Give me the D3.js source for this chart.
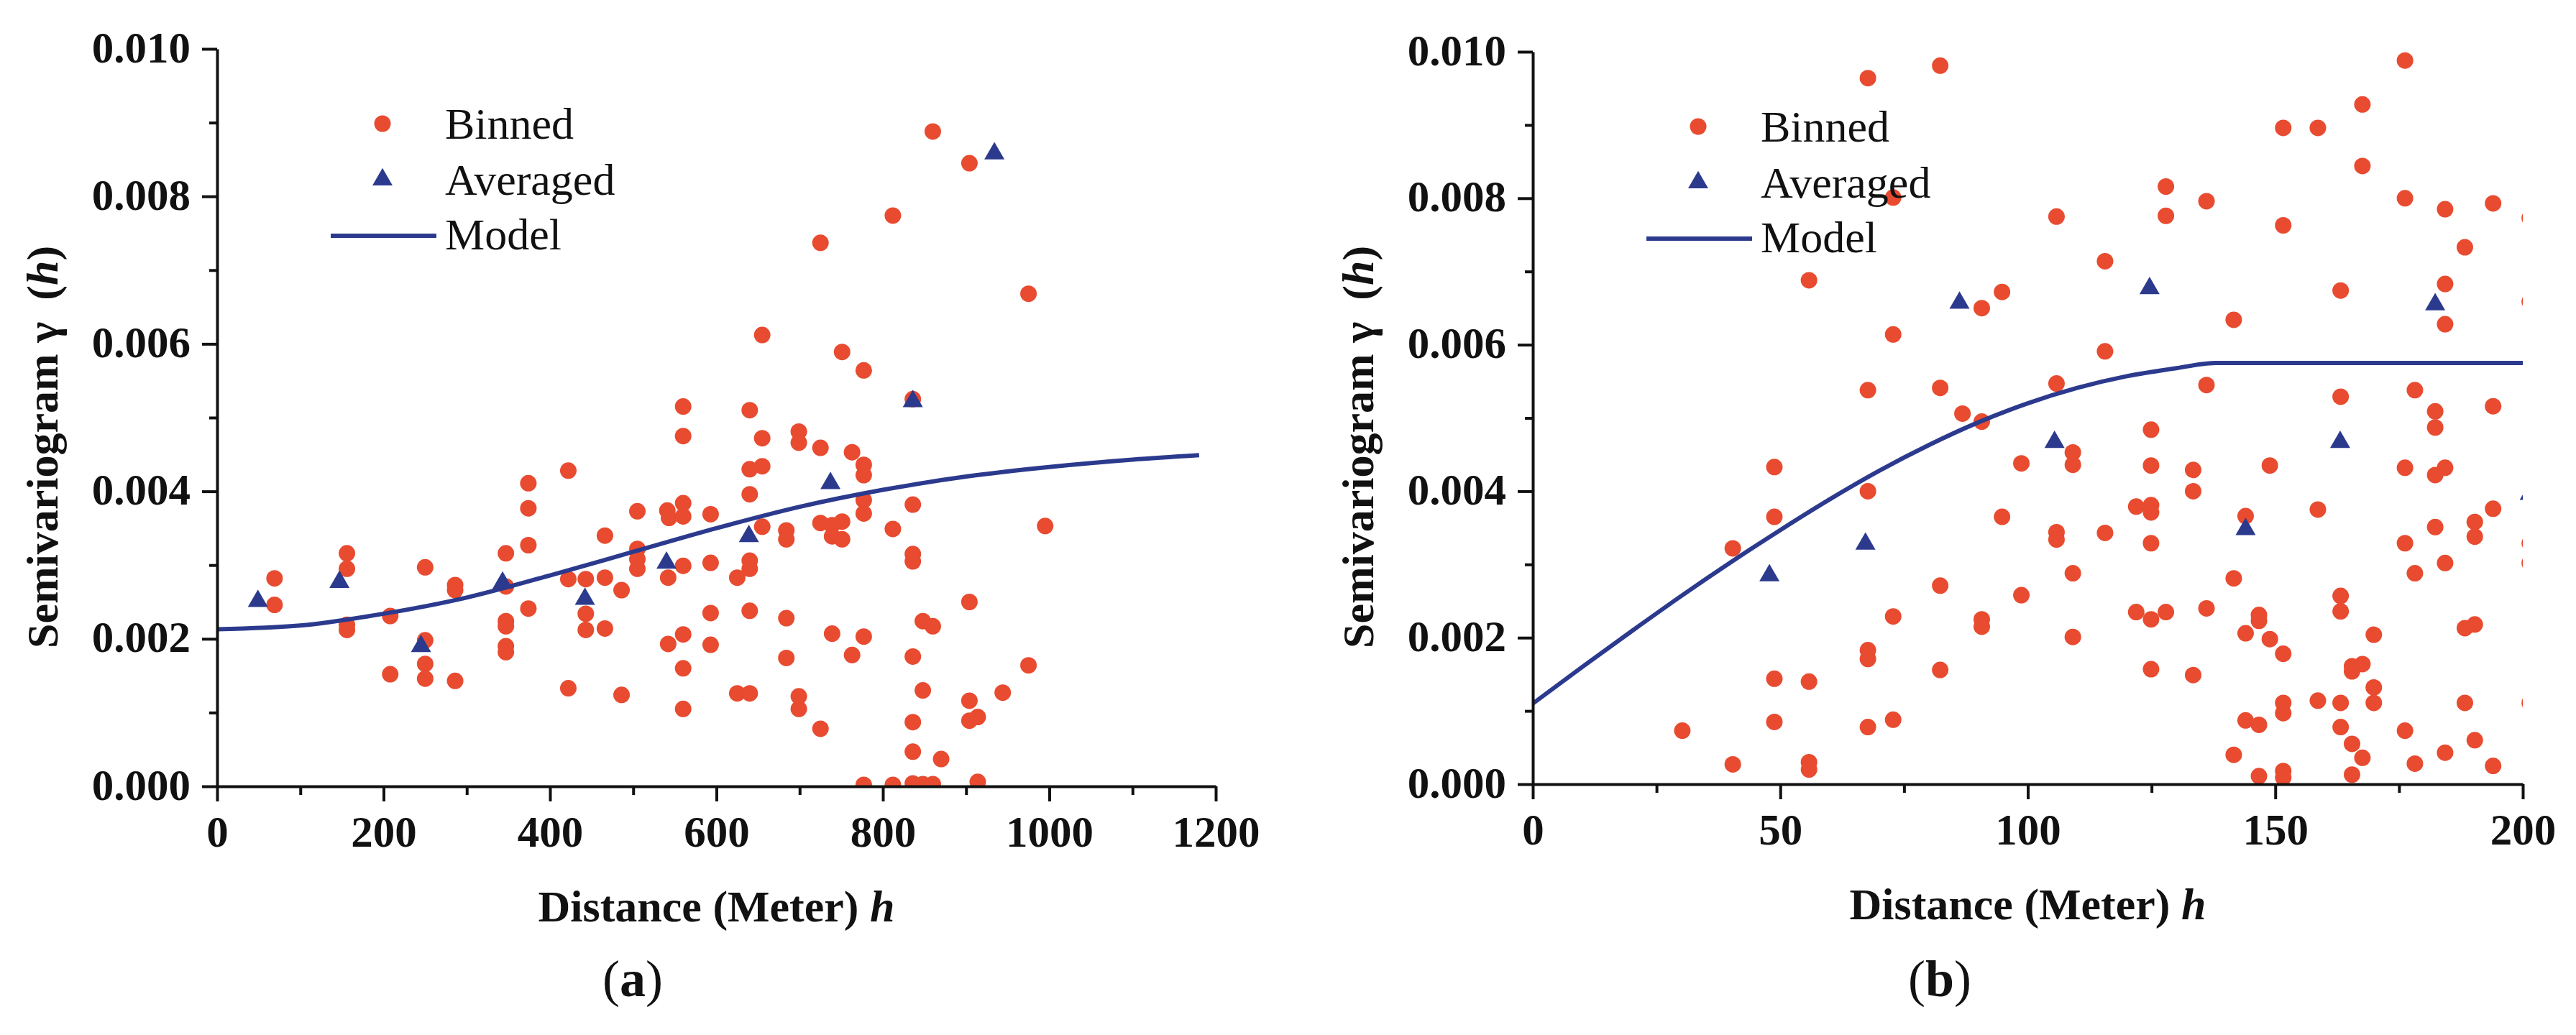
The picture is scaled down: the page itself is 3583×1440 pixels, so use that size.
<!DOCTYPE html>
<html><head><meta charset="utf-8">
<script src="https://cdn.jsdelivr.net/npm/d3@7"></script>
<style>body{margin:0;background:#fff}svg{display:block}</style>
</head><body>
<svg id="chart" width="3583" height="1440"></svg>
<script>
// ---------- data ----------
const binnedA = [
 [69,0.00282],[69,0.00246],
 [156,0.00316],[156,0.00295],[156,0.00219],[156,0.00212],
 [208,0.00231],[208,0.00152],
 [250,0.00297],[250,0.00198],[250,0.00166],[250,0.00146],
 [286,0.00273],[286,0.00266],[286,0.00143],
 [347,0.00316],[347,0.00271],[347,0.00224],[347,0.00217],[347,0.00190],[347,0.00182],
 [374,0.00411],[374,0.00377],[374,0.00327],[374,0.00241],
 [422,0.00428],[422,0.00281],[422,0.00133],
 [443,0.00281],[443,0.00234],[443,0.00212],
 [466,0.00340],[466,0.00283],[466,0.00214],
 [486,0.00266],[486,0.00124],
 [505,0.00373],[505,0.00322],[505,0.00308],[505,0.00295],
 [541,0.00374],[543,0.00364],[542,0.00283],[542,0.00193],
 [560,0.00515],[560,0.00475],[560,0.00384],[560,0.00366],[560,0.00299],[560,0.00206],[560,0.00160],[560,0.00105],
 [593,0.00369],[593,0.00303],[593,0.00235],[593,0.00192],
 [625,0.00283],[625,0.00126],
 [640,0.00510],[640,0.00430],[640,0.00396],[640,0.00306],[640,0.00295],[640,0.00238],[640,0.00126],
 [655,0.00612],[655,0.00472],[655,0.00434],[655,0.00352],
 [684,0.00347],[684,0.00335],[684,0.00228],[684,0.00174],
 [699,0.00481],[699,0.00466],[699,0.00122],[699,0.00105],
 [725,0.00737],[725,0.00459],[725,0.00357],[725,0.00078],
 [739,0.00354],[739,0.00339],[739,0.00207],
 [751,0.00589],[751,0.00359],[751,0.00335],
 [763,0.00453],[763,0.00178],
 [777,0.00564],[777,0.00436],[777,0.00422],[777,0.00388],[777,0.00370],[777,0.00203],[777,0.00002],
 [812,0.00774],[812,0.00349],[812,0.00002],
 [836,0.00525],[836,0.00382],[836,0.00315],[836,0.00305],[836,0.00176],[836,0.00087],[836,0.00047],[836,0.00004],
 [848,0.00224],[848,0.00130],[848,0.00003],
 [860,0.00888],[860,0.00217],[860,0.00003],
 [870,0.00037],
 [904,0.00845],[904,0.00250],[904,0.00116],[904,0.00089],
 [914,0.00094],[914,0.00006],
 [944,0.00127],
 [975,0.00668],[975,0.00164],
 [995,0.00353]
];
const averagedA = [[49,0.00251],[147,0.00277],[245,0.00190],[343,0.00276],[442,0.00254],
 [540,0.00303],[639,0.00339],[737,0.00411],[836,0.00522],[934,0.00858]];
const modelA = [[0,0.00213],[100,0.00218],[200,0.00234],[300,0.00256],[400,0.00286],[500,0.00318],
 [600,0.00350],[700,0.00379],[800,0.00402],[900,0.00420],[1000,0.00433],[1100,0.00443],[1180,0.00449]];

const binnedB = [
 [67.7,0.00964],[82.3,0.00981],[72.8,0.00801],[55.8,0.00688],[72.8,0.00614],[67.7,0.00538],[82.3,0.00541],
 [86.8,0.00506],[48.8,0.00433],[67.7,0.00400],
 [176.2,0.00988],[167.6,0.00928],[151.6,0.00896],[158.6,0.00896],[167.6,0.00844],[127.9,0.00816],
 [136.1,0.00796],[127.9,0.00776],[105.8,0.00775],[151.6,0.00763],[176.2,0.00800],[184.3,0.00785],
 [194.0,0.00793],[188.3,0.00733],[115.6,0.00714],[94.8,0.00672],[90.7,0.00650],[163.2,0.00674],
 [184.3,0.00683],[184.3,0.00628],[141.6,0.00634],[115.6,0.00591],[105.8,0.00547],[136.1,0.00545],
 [163.2,0.00529],[178.2,0.00538],[182.3,0.00509],[182.3,0.00487],[194.0,0.00516],[90.7,0.00495],
 [124.9,0.00484],[109.1,0.00453],[109.1,0.00436],[98.7,0.00438],[124.9,0.00435],[133.4,0.00429],
 [148.9,0.00435],[176.2,0.00432],[182.3,0.00422],[184.3,0.00432],[133.4,0.00400],
 [48.8,0.00365],[40.4,0.00322],[82.3,0.00271],[72.8,0.00229],[67.7,0.00183],[67.7,0.00171],
 [82.3,0.00156],[48.8,0.00144],[55.8,0.00140],[30.2,0.00073],[48.8,0.00085],[67.7,0.00078],
 [72.8,0.00088],[40.4,0.00027],[55.8,0.00030],[55.8,0.00020],
 [94.8,0.00365],[121.9,0.00379],[124.9,0.00381],[124.9,0.00371],[158.6,0.00375],[144.0,0.00366],
 [194.0,0.00376],[190.3,0.00358],[182.3,0.00351],[190.3,0.00338],[176.2,0.00329],[105.8,0.00344],
 [105.8,0.00334],[115.6,0.00343],[124.9,0.00329],[184.3,0.00302],[178.2,0.00288],[109.1,0.00288],
 [141.6,0.00281],[98.7,0.00258],[163.2,0.00257],[163.2,0.00236],[136.1,0.00240],[121.9,0.00235],
 [124.9,0.00225],[127.9,0.00235],[146.7,0.00231],[146.7,0.00223],[90.7,0.00225],[90.7,0.00215],
 [190.3,0.00218],[188.3,0.00213],[144.0,0.00206],[109.1,0.00201],[169.9,0.00204],[148.9,0.00198],
 [151.6,0.00178],[167.6,0.00164],[165.5,0.00161],[165.5,0.00154],[124.9,0.00157],[133.4,0.00149],
 [169.9,0.00132],[169.9,0.00111],[151.6,0.00111],[151.6,0.00097],[158.6,0.00114],[163.2,0.00111],
 [188.3,0.00111],[144.0,0.00087],[146.7,0.00081],[163.2,0.00078],[176.2,0.00073],[190.3,0.00060],
 [165.5,0.00055],[141.6,0.00040],[184.3,0.00043],[167.6,0.00036],[178.2,0.00028],[194.0,0.00025],
 [146.7,0.00011],[151.6,0.00018],[151.6,0.00009],[165.5,0.00013],
 [201.4,0.00773],[201.4,0.00659],[201.4,0.00329],[201.4,0.00302],[201.4,0.00111]
];
const averagedB = [[47.8,0.00285],[67.2,0.00328],[86.2,0.00657],[105.4,0.00467],[124.6,0.00677],
 [144.0,0.00348],[163.1,0.00467],[182.3,0.00655],[201.4,0.00396]];
const modelB = [[0,0.00110],[10,0.00160],[20,0.00209],[30,0.00257],[40,0.00303],[50,0.00347],
 [60,0.00389],[70,0.00428],[80,0.00463],[90,0.00494],[100,0.00520],[110,0.00541],[120,0.00557],
 [130,0.00568],[138,0.00575],[200,0.00575]];

const yTicks = [0,0.002,0.004,0.006,0.008,0.010];
const yMinor = [0.001,0.003,0.005,0.007,0.009];
const xTicksA = [0,200,400,600,800,1000,1200];
const xMinorA = [100,300,500,700,900,1100];
const xTicksB = [0,50,100,150,200];
const xMinorB = [25,75,125,175];
const legendLabels = ["Binned","Averaged","Model"];
const panelNames = ["a","b"];

// ---------- drawing ----------
const RED = "#E84B30", BLUE = "#2C3A8E";
const SERIF = "'Liberation Serif','Times New Roman',Times,serif";
const svg = d3.select("#chart");
svg.append("rect").attr("width",3583).attr("height",1440).attr("fill","#ffffff");
const defs = svg.append("defs");

const panels = [
 {name:panelNames[0], left:302, right:1691, top:68, bottom:1094, xDomain:[0,1200], xTicks:xTicksA, xMinor:xMinorA,
  binned:binnedA, averaged:averagedA, model:modelA, labelX:880},
 {name:panelNames[1], left:2132, right:3509, top:72, bottom:1091, xDomain:[0,200], xTicks:xTicksB, xMinor:xMinorB,
  binned:binnedB, averaged:averagedB, model:modelB, labelX:2698}
];

const tri = d3.symbol(d3.symbolTriangle, 340);

panels.forEach(p => {
  const x = d3.scaleLinear().domain(p.xDomain).range([p.left, p.right]);
  const y = d3.scaleLinear().domain([0, 0.010]).range([p.bottom, p.top]);

  defs.append("clipPath").attr("id","clip-"+p.name).append("rect")
    .attr("x", p.left).attr("y", p.top - 30).attr("width", p.right - p.left).attr("height", p.bottom - p.top + 30);

  const plot = svg.append("g").attr("clip-path", `url(#clip-${p.name})`);
  plot.selectAll("circle").data(p.binned).join("circle")
    .attr("cx", d => x(d[0])).attr("cy", d => y(d[1])).attr("r", 11.5).attr("fill", RED);
  plot.append("path").datum(p.model)
    .attr("d", d3.line().x(d => x(d[0])).y(d => y(d[1])).curve(d3.curveMonotoneX))
    .attr("fill","none").attr("stroke", BLUE).attr("stroke-width", 6);
  plot.selectAll("path.tri").data(p.averaged).join("path").attr("class","tri")
    .attr("transform", d => `translate(${x(d[0])},${y(d[1])})`).attr("d", tri).attr("fill", BLUE);

  // axes
  const styleAxis = g => {
    g.attr("font-family", SERIF).attr("font-size", 61).attr("font-weight", "bold");
    g.select(".domain").attr("stroke", "#111").attr("stroke-width", 4);
    g.selectAll(".tick line").attr("stroke", "#111").attr("stroke-width", 4);
    g.selectAll(".tick text").attr("fill", "#111");
  };
  const gx = svg.append("g").attr("transform", `translate(0,${p.bottom})`)
    .call(d3.axisBottom(x).tickValues(p.xTicks).tickSize(21).tickSizeOuter(0).tickFormat(d3.format("d")));
  styleAxis(gx);
  gx.selectAll(".tick text").attr("y", 84).attr("dy", null);
  const gxm = svg.append("g").attr("transform", `translate(0,${p.bottom})`)
    .call(d3.axisBottom(x).tickValues(p.xMinor).tickSize(12).tickFormat(""));
  gxm.select(".domain").remove();
  gxm.selectAll(".tick line").attr("stroke", "#111").attr("stroke-width", 4);

  const gy = svg.append("g").attr("transform", `translate(${p.left},0)`)
    .call(d3.axisLeft(y).tickValues(yTicks).tickSize(21).tickSizeOuter(0).tickFormat(d3.format(".3f")));
  styleAxis(gy);
  gy.selectAll(".tick text").attr("x", -37).attr("dy", null).attr("y", 18);
  const gym = svg.append("g").attr("transform", `translate(${p.left},0)`)
    .call(d3.axisLeft(y).tickValues(yMinor).tickSize(11).tickFormat(""));
  gym.select(".domain").remove();
  gym.selectAll(".tick line").attr("stroke", "#111").attr("stroke-width", 4);

  // axis titles
  const xt = svg.append("text").attr("x", (p.left + p.right) / 2).attr("y", p.bottom + 188)
    .attr("text-anchor","middle").attr("font-family", SERIF).attr("font-size", 62)
    .attr("font-weight","bold").attr("fill","#111");
  xt.append("tspan").text("Distance (Meter) ");
  xt.append("tspan").attr("font-style","italic").text("h");

  const yt = svg.append("text").attr("transform", `translate(${p.left - 222},622) rotate(-90)`)
    .attr("text-anchor","middle").attr("font-family", SERIF).attr("font-size", 62)
    .attr("font-weight","bold").attr("fill","#111");
  yt.append("tspan").text("Semivariogram γ");
  yt.append("tspan").attr("dx", 30).text("(");
  yt.append("tspan").attr("font-style","italic").text("h");
  yt.append("tspan").text(")");

  // legend
  const lg = svg.append("g").attr("transform", `translate(${p.left},${p.top})`);
  lg.append("circle").attr("cx", 230).attr("cy", 104).attr("r", 11.5).attr("fill", RED);
  lg.append("path").attr("transform","translate(230,182)").attr("d", tri).attr("fill", BLUE);
  lg.append("line").attr("x1", 158).attr("x2", 305).attr("y1", 260).attr("y2", 260)
    .attr("stroke", BLUE).attr("stroke-width", 6);
  lg.selectAll("text.lab").data(legendLabels).join("text").attr("class","lab")
    .attr("x", 317).attr("y", (d,i) => [125,203,279][i])
    .attr("font-family", SERIF).attr("font-size", 62).attr("fill","#111").text(d => d);

  // panel label
  const pl = svg.append("text").attr("x", p.labelX).attr("y", 1386).attr("text-anchor","middle")
    .attr("font-family", SERIF).attr("font-size", 72).attr("fill","#111");
  pl.append("tspan").text("(");
  pl.append("tspan").attr("font-weight","bold").text(p.name);
  pl.append("tspan").text(")");
});
</script>
</body></html>
